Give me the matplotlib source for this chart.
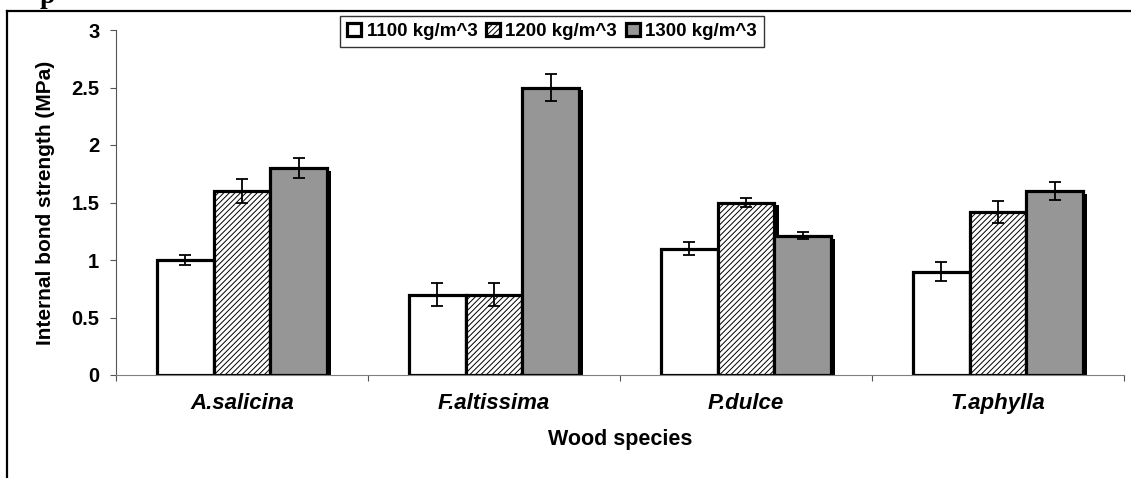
import numpy as np
import matplotlib
matplotlib.use('Agg')
import matplotlib.pyplot as plt
from matplotlib.lines import Line2D

plt.rcParams['font.family'] = ['Liberation Sans', 'DejaVu Sans']
plt.rcParams['hatch.color'] = '#3a3a3a'
plt.rcParams['hatch.linewidth'] = 0.7

species = ['A.salicina', 'F.altissima', 'P.dulce', 'T.aphylla']
densities = ['1100 kg/m^3', '1200 kg/m^3', '1300 kg/m^3']
ib_1100 = [1.0, 0.7, 1.1, 0.9]
ib_1200 = [1.6, 0.7, 1.5, 1.42]
ib_1300 = [1.8, 2.5, 1.21, 1.6]
err_1100 = [0.04, 0.1, 0.055, 0.08]
err_1200 = [0.1, 0.1, 0.04, 0.095]
err_1300 = [0.09, 0.12, 0.03, 0.08]
yticks = [0, 0.5, 1, 1.5, 2, 2.5, 3]

W, H = 1131, 478
fig = plt.figure(figsize=(W / 100, H / 100), dpi=100)
ax = fig.add_axes([116 / W, 1 - 375 / H, 1008 / W, 345 / H])

series = [ib_1100, ib_1200, ib_1300]
errors = [err_1100, err_1200, err_1300]
faces = ['white', 'white', '#969696']
hatches = [None, '//////', None]
w = 0.226
x = np.arange(len(species))

for i, (vals, errs) in enumerate(zip(series, errors)):
    xi = x + (i - 1) * w
    vals = np.array(vals)
    # excel style drop shadow
    ax.bar(xi + 0.016, vals - 0.026, w, color='black', zorder=1)
    ax.bar(xi, vals, w, color=faces[i], edgecolor='black', linewidth=2.3,
           hatch=hatches[i], label=densities[i], zorder=2)
    ax.errorbar(xi, vals, yerr=errs, fmt='none', ecolor='black',
                elinewidth=1.3, capsize=4.5, capthick=1.3, zorder=4)

ax.set_xlim(-0.5, 3.5)
ax.set_ylim(0, 3)
ax.spines['top'].set_visible(False)
ax.spines['right'].set_visible(False)
ax.spines['left'].set_color('#555555')
ax.spines['bottom'].set_color('#808080')

ax.set_xticks(np.arange(-0.5, 3.6, 1))
ax.set_xticklabels([])
ax.set_xticks(x, minor=True)
ax.set_xticklabels(species, minor=True, fontsize=16, fontweight='bold', style='italic')
ax.tick_params(axis='x', which='major', direction='out', length=4, color='#555555')
ax.tick_params(axis='x', which='minor', length=0, pad=13)

ax.set_yticks(yticks)
ax.set_yticklabels([f'{v:g}' for v in yticks], fontsize=14.5, fontweight='bold')
ax.tick_params(axis='y', direction='out', length=4, pad=8, color='#555555')

ax.set_ylabel('Internal bond strength (MPa)', fontsize=15, fontweight='bold')
ax.yaxis.set_label_coords(-0.061, 0.5)
ax.set_xlabel('Wood species', fontsize=15.5, fontweight='bold', labelpad=11)

leg = ax.legend(loc='upper center', bbox_to_anchor=(552 / W, 1 - 16 / H),
                bbox_transform=fig.transFigure, ncol=3, frameon=True, fancybox=False,
                prop={'size': 13.5, 'weight': 'bold'}, handlelength=0.75,
                handleheight=0.75, handletextpad=0.3, columnspacing=0.45,
                borderpad=0.35, borderaxespad=0)
leg.get_frame().set_edgecolor('black')
leg.get_frame().set_linewidth(1.0)

# outer frame of the figure box
fig.add_artist(Line2D([7 / W, 7 / W], [0, 1 - 11 / H], transform=fig.transFigure,
                      color='black', lw=1.6))
fig.add_artist(Line2D([7 / W, 1], [1 - 11 / H, 1 - 11 / H], transform=fig.transFigure,
                      color='black', lw=1.6))
fig.text(40 / W, 1 - 3 / H, 'p', fontsize=20, fontweight='bold',
         family='Liberation Serif', va='baseline', ha='left')

fig.savefig('out.png', dpi=100)
